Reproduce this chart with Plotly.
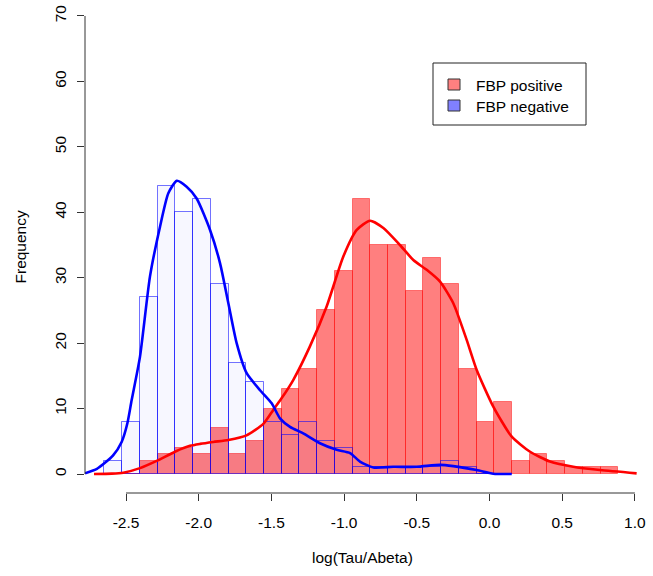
import plotly.graph_objects as go

# ---------------- data ----------------
# histogram break points (shared by both groups)
breaks = [-2.648, -2.526, -2.404, -2.282, -2.161, -2.039, -1.917, -1.795, -1.673, -1.551,
          -1.429, -1.308, -1.186, -1.064, -0.942, -0.820, -0.698, -0.576, -0.455, -0.333,
          -0.211, -0.089, 0.033, 0.155, 0.277, 0.398, 0.520, 0.642, 0.764, 0.886]

# counts per bin (bin i spans breaks[i]..breaks[i+1])
pos_counts = [0, 0, 2, 3, 4, 3, 7, 3, 5, 10, 13, 16, 25, 31, 42, 35, 35, 28, 33, 29,
              16, 8, 11, 2, 3, 2, 1, 1, 1]
neg_counts = [2, 8, 27, 44, 40, 42, 29, 17, 14, 8, 6, 8, 5, 4, 1, 1, 1, 1, 1, 2,
              1, 0, 0]

# density curves (scaled to frequency)
neg_dens_x = [-2.782, -2.700, -2.651, -2.590, -2.530, -2.490, -2.461, -2.404, -2.335, -2.266,
              -2.209, -2.151, -2.083, -2.014, -1.922, -1.853, -1.796, -1.739, -1.670, -1.578,
              -1.498, -1.441, -1.372, -1.281, -1.166, -1.051, -0.959, -0.891, -0.799, -0.662,
              -0.501, -0.340, -0.249, -0.088, 0.026, 0.153]
neg_dens_y = [0.1, 0.8, 1.6, 2.8, 4.9, 7.8, 11.3, 17.9, 30.2, 37.8,
              42.9, 44.8, 43.9, 42.1, 37.3, 32.2, 26.1, 20.0, 15.4, 12.8,
              10.8, 8.5, 7.2, 6.2, 4.7, 3.7, 3.2, 1.9, 1.0, 1.1,
              1.1, 1.4, 1.2, 0.6, 0.05, 0.0]

pos_dens_x = [-2.720, -2.598, -2.519, -2.404, -2.289, -2.163, -2.060, -1.991, -1.900, -1.796,
              -1.671, -1.554, -1.487, -1.429, -1.349, -1.235, -1.120, -1.006, -0.913, -0.822,
              -0.730, -0.616, -0.524, -0.432, -0.340, -0.249, -0.157, -0.088, 0.026, 0.153,
              0.279, 0.416, 0.576, 0.760, 1.012]
pos_dens_y = [0.0, 0.05, 0.2, 0.9, 2.0, 3.4, 4.3, 4.6, 4.9, 5.2,
              5.9, 7.7, 9.8, 11.6, 14.4, 19.5, 25.6, 33.2, 37.3, 38.7,
              37.6, 35.0, 32.7, 31.2, 29.4, 26.1, 20.5, 15.9, 10.3, 5.7,
              3.4, 1.9, 1.1, 0.6, 0.1]

x_ticks = [-2.5, -2.0, -1.5, -1.0, -0.5, 0.0, 0.5, 1.0]
x_tick_text = ["-2.5", "-2.0", "-1.5", "-1.0", "-0.5", "0.0", "0.5", "1.0"]
y_ticks = [0, 10, 20, 30, 40, 50, 60, 70]
legend_labels = ["FBP positive", "FBP negative"]

# ---------------- layout geometry ----------------
W, H = 653, 576
ML, MR, MT, MB = 85, 13, 2, 83
PW, PH = W - ML - MR, H - MT - MB
FONT = "Arial, Liberation Sans, sans-serif"
FS = 15.5


def px2paper(px, py):
    return (px - ML) / PW, (H - MB - py) / PH


def bars(counts):
    centers = [(breaks[i] + breaks[i + 1]) / 2 for i in range(len(counts))]
    widths = [breaks[i + 1] - breaks[i] for i in range(len(counts))]
    return centers, widths


fig = go.Figure()

pc, pw = bars(pos_counts)
fig.add_trace(go.Bar(x=pc, y=pos_counts, width=pw,
                     marker=dict(color="rgba(255,0,0,0.5)",
                                 line=dict(color="rgba(255,0,0,0.45)", width=1)),
                     showlegend=False))
nc, nw = bars(neg_counts)
fig.add_trace(go.Bar(x=nc, y=neg_counts, width=nw,
                     marker=dict(color="rgba(0,0,255,0.03)",
                                 line=dict(color="rgba(0,0,255,0.55)", width=1)),
                     showlegend=False))

fig.add_trace(go.Scatter(x=pos_dens_x, y=pos_dens_y, mode="lines",
                         line=dict(color="#FF0000", width=2.6, shape="spline", smoothing=0.6),
                         showlegend=False))
fig.add_trace(go.Scatter(x=neg_dens_x, y=neg_dens_y, mode="lines",
                         line=dict(color="#0000FF", width=2.6, shape="spline", smoothing=0.6),
                         showlegend=False))

x_px_per_unit = 145.4
x_zero_px = 489.5
y_px_per_unit = 6.543
y_zero_px = 474.0
x_range = [(ML - x_zero_px) / x_px_per_unit, (ML + PW - x_zero_px) / x_px_per_unit]
y_range = [(y_zero_px - (H - MB)) / y_px_per_unit, (y_zero_px - MT) / y_px_per_unit]

shapes = [
    dict(type="line", xref="x", yref="paper", x0=x_ticks[0], x1=x_ticks[-1], y0=0, y1=0,
         line=dict(color="#333333", width=1)),
    dict(type="line", xref="paper", yref="y", x0=0, x1=0, y0=y_ticks[0], y1=y_ticks[-1],
         line=dict(color="#333333", width=1)),
]
# legend box
bx0, by0 = px2paper(433, 63)
bx1, by1 = px2paper(586, 125)
shapes.append(dict(type="rect", xref="paper", yref="paper", x0=bx0, x1=bx1, y0=by1, y1=by0,
                   line=dict(color="#222222", width=1), fillcolor="white"))
annotations = []
legend_fill = ["#FF8080", "#8080FF"]
for i, (lab, col) in enumerate(zip(legend_labels, legend_fill)):
    top = 79 + i * 21
    sx0, sy0 = px2paper(448, top)
    sx1, sy1 = px2paper(460, top + 11)
    shapes.append(dict(type="rect", xref="paper", yref="paper", x0=sx0, x1=sx1, y0=sy1, y1=sy0,
                       line=dict(color="#333333", width=1), fillcolor=col))
    tx, ty = px2paper(474, top + 6)
    annotations.append(dict(text=lab, xref="paper", yref="paper", x=tx, y=ty,
                            xanchor="left", yanchor="middle", showarrow=False,
                            font=dict(family=FONT, size=FS, color="black")))

ax, ay = px2paper(362.5, 557)
annotations.append(dict(text="log(Tau/Abeta)", xref="paper", yref="paper", x=ax, y=ay,
                        xanchor="center", yanchor="middle", showarrow=False,
                        font=dict(family=FONT, size=FS, color="black")))
fx, fy = px2paper(20, 247.5)
annotations.append(dict(text="Frequency", xref="paper", yref="paper", x=fx, y=fy,
                        xanchor="center", yanchor="middle", showarrow=False, textangle=-90,
                        font=dict(family=FONT, size=FS, color="black")))

fig.update_layout(
    width=W, height=H,
    margin=dict(l=ML, r=MR, t=MT, b=MB, pad=0),
    paper_bgcolor="white", plot_bgcolor="white",
    barmode="overlay", bargap=0,
    shapes=shapes, annotations=annotations,
    font=dict(family=FONT, size=FS, color="black"),
    xaxis=dict(range=x_range, showgrid=False, zeroline=False, showline=False,
               tickvals=x_ticks, ticktext=x_tick_text, ticks="outside", ticklen=7,
               tickcolor="#333333", tickwidth=1, ticklabelstandoff=8,
               tickfont=dict(family=FONT, size=FS, color="black")),
    yaxis=dict(range=y_range, showgrid=False, zeroline=False, showline=False,
               tickvals=y_ticks, ticks="outside", ticklen=7, tickangle=-90,
               tickcolor="#333333", tickwidth=1, ticklabelstandoff=5,
               tickfont=dict(family=FONT, size=FS, color="black")),
)

fig.write_html("out.html")
